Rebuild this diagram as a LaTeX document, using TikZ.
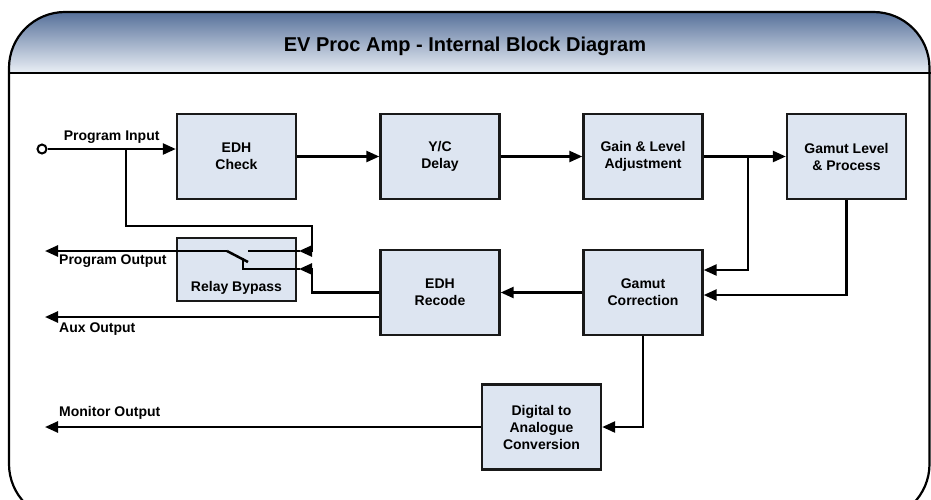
\documentclass[tikz,border=0pt]{standalone}
\usepackage{fontspec}
\setmainfont{Liberation Sans}
\usetikzlibrary{arrows.meta,positioning,calc}
\usepackage{xcolor}
\definecolor{hdrtop}{RGB}{58,88,136}
\definecolor{hdrbot}{RGB}{234,239,246}
\definecolor{boxfill}{RGB}{221,229,241}
\definecolor{boxline}{RGB}{25,25,25}
\tikzset{blk/.style={rectangle, draw=boxline, fill=boxfill, line width=2.4pt, minimum width=119pt, minimum height=85pt, align=center}}

\begin{document}
\begin{tikzpicture}[x=1pt, y=-1pt, >={Triangle[length=13pt,width=11pt]}, font=\bfseries\fontsize{14}{17}\selectfont]
		\clip (0,0) rectangle (931,499);
		% header band and frame
		\begin{scope}
			\clip[rounded corners=56pt] (9,12) rectangle (929.5,520);
			\shade[top color=hdrtop, bottom color=hdrbot] (0,0) rectangle (931,73);
		\end{scope}
		\draw[line width=2.2pt, rounded corners=56pt] (9,12) rectangle (929.5,520);
		\draw[line width=2.2pt] (9,73) -- (931,73);
		\node (title) at (465,46) {\fontsize{20}{24}\selectfont EV Proc Amp - Internal Block Diagram};
		% blocks
		\begin{scope}[every node/.style={blk}]
			\node (edhchk) at (236.5,156.5) {EDH\\Check};
			\node (ycdelay) at (440,156.5) {Y/C\\Delay};
			\node (gain) at (643,156.5) {Gain \& Level\\Adjustment};
			\node (gamutlvl) at (846.5,156.5) {Gamut Level\\\& Process};
			\node (gamutcorr) at (643,292.5) {Gamut\\Correction};
			\node (edhrec) at (440,292.5) {EDH\\Recode};
			\node (dac) at (541.5,427) {Digital to\\Analogue\\Conversion};
		\end{scope}
		\node[blk, minimum height=63pt, label={[anchor=south, yshift=4pt]south:Relay Bypass}] (relay) at (236.5,269.5) {};
		% connectors
		\begin{scope}[line width=2.5pt]
			\node[circle, draw, line width=2pt, fill=white, inner sep=0pt, minimum size=9pt] (in) at (42,149) {};
			\coordinate (tap) at (126,149);
			\coordinate (pivot) at (227,251);
			\coordinate (nc) at (248,251);
			\coordinate (blade) at (248,262);
			\coordinate (auxy) at (0,317);
			\coordinate (outx) at (45,0);
			\coordinate (split) at (748,156.5);
			\draw[->] (in) -- node[above=1pt] (proginlbl) {Program Input} (in -| edhchk.west);
			\draw[->] (edhchk.east) -- (ycdelay.west);
			\draw[->] (ycdelay.east) -- (gain.west);
			\draw[->] (gain.east) -- (gamutlvl.west);
			\draw[->] (split) |- ([yshift=22.5pt]gamutcorr.east);
			\draw[->] (gamutlvl.south) |- ([yshift=-2.5pt]gamutcorr.east);
			\draw[->] (gamutcorr.west) -- (edhrec.east);
			\draw[->] (gamutcorr.south) |- (dac.east);
			% relay bypass switch
			\draw[->] (tap) |- (312,226) |- (299,251);
			\draw[->] (edhrec.west) -| (312,269) -- (299,269);
			\draw (nc) -- (300,251);
			\draw (pivot) -- (blade);
			\draw (243,258) |- (300,269);
			% outputs
			\draw[->] (pivot) -- (pivot -| outx);
			\draw[->] (edhrec.west |- auxy) -- (outx |- auxy);
			\draw[->] (dac.west) -- (dac.west -| outx);
		\end{scope}
		\node[anchor=north west, inner sep=1pt] (progout) at (58,254) {Program Output};
		\node[anchor=north west, inner sep=1pt] (auxout) at (58,322) {Aux Output};
		\node[anchor=south west, inner sep=1pt] (monout) at (58,421) {Monitor Output};
	\end{tikzpicture}
\end{document}
